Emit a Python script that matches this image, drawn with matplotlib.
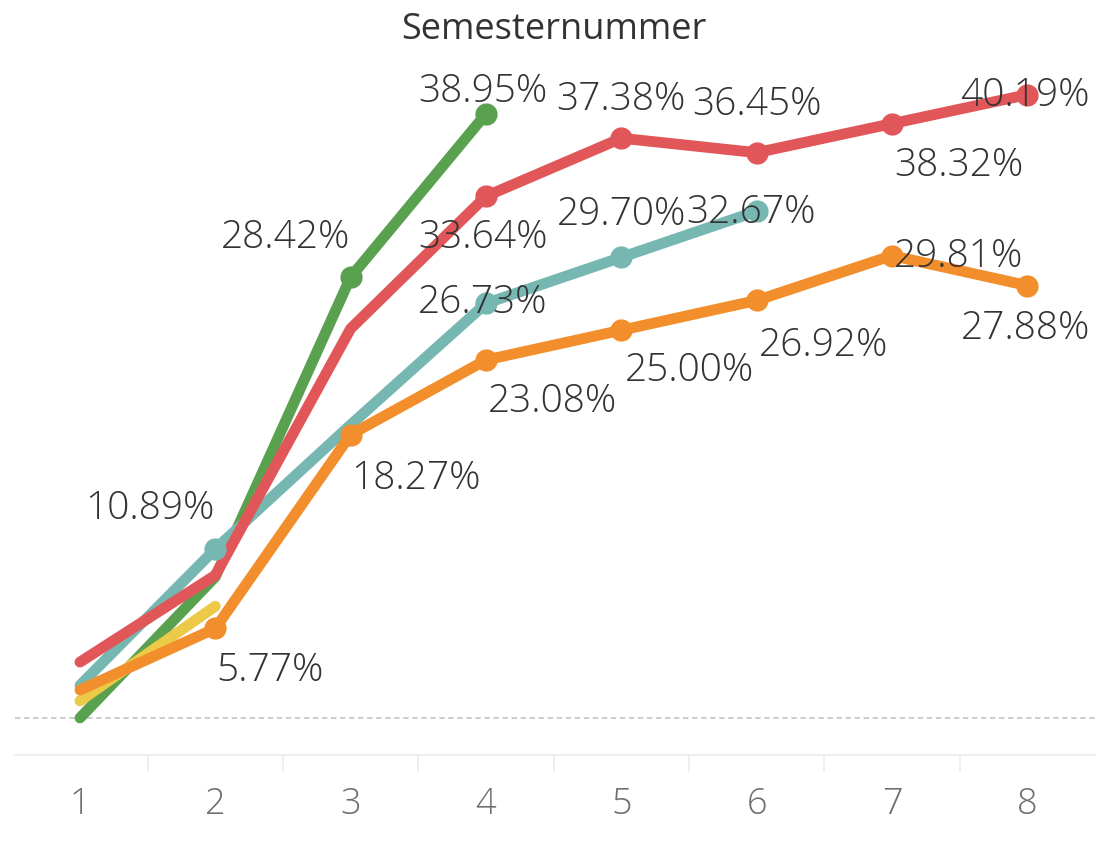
import matplotlib
matplotlib.use('Agg')
import matplotlib.pyplot as plt
import numpy as np

plt.rcParams['font.family'] = ['Open Sans', 'DejaVu Sans']

# data (percent per Semesternummer)
semester = [1, 2, 3, 4, 5, 6, 7, 8]
green = [0.0, 9.1, 28.42, 38.95]
yellow = [1.1, 7.2]
teal = [2.1, 10.89, 18.9, 26.73, 29.70, 32.67]
red = [3.6, 9.2, 25.1, 33.64, 37.38, 36.45, 38.32, 40.19]
orange = [1.8, 5.77, 18.27, 23.08, 25.00, 26.92, 29.81, 27.88]

# which points carry a label (index -> label offset in pixels)
green_lab = {2: (-65, 39), 3: (-3, 22)}
yellow_lab = {}
teal_lab = {1: (-65, 40), 3: (-3, 1), 4: (0, 43), 5: (-6, -1)}
red_lab = {3: (-3, -42), 4: (0, 38), 5: (0, 48), 6: (67, -42), 7: (-2, -1)}
orange_lab = {1: (55, -42), 2: (65, -44), 3: (67, -42), 4: (68, -41),
              5: (67, -45), 6: (67, -1), 7: (-2, -43)}

fig = plt.figure(figsize=(11, 8.59), dpi=100)
ax = fig.add_axes([15/1100, 104/859, 1080/1100, 805/859 - 104/859])

series = [
    (green, '#59a14f', green_lab),
    (yellow, '#edc948', yellow_lab),
    (teal, '#76b7b2', teal_lab),
    (red, '#e15759', red_lab),
    (orange, '#f28e2b', orange_lab),
]

for vals, col, labs in series:
    xs = semester[:len(vals)]
    ax.plot(xs, vals, color=col, lw=7.8, solid_capstyle='round',
            solid_joinstyle='round', zorder=3)
    for i, (dx, dy) in labs.items():
        ax.plot(xs[i], vals[i], 'o', color=col, ms=15, zorder=4)
        ax.annotate(f'{vals[i]:.2f}%', (xs[i], vals[i]), xytext=(dx, dy),
                    textcoords='offset pixels', ha='center', va='center',
                    fontsize=28, fontweight='light', color='#333333', zorder=5)

ax.axhline(0, color='#c8c8c8', lw=1.3, ls=(0, (3, 2)), zorder=1)

ax.set_xlim(0.52, 8.5)
ax.set_ylim(-2.39, (718 - 54) / 15.51)

for s in ['top', 'right', 'left']:
    ax.spines[s].set_visible(False)
ax.spines['bottom'].set_color('#ececec')
ax.spines['bottom'].set_linewidth(1.2)

ax.set_yticks([])
ax.set_xticks(semester)
ax.set_xticklabels([str(s) for s in semester], fontweight='light')
ax.tick_params(axis='x', which='major', length=0, labelsize=26,
               labelcolor='#6e6e6e', pad=22)
ax.set_xticks(np.arange(1.5, 8.5, 1), minor=True)
ax.tick_params(axis='x', which='minor', length=12, color='#ececec', width=1.2)

fig.text(554/1100, 1 - 30/859, 'Semesternummer', ha='center', va='center',
         fontsize=26, color='#333333')

fig.savefig('out.png', dpi=100, facecolor='white')
